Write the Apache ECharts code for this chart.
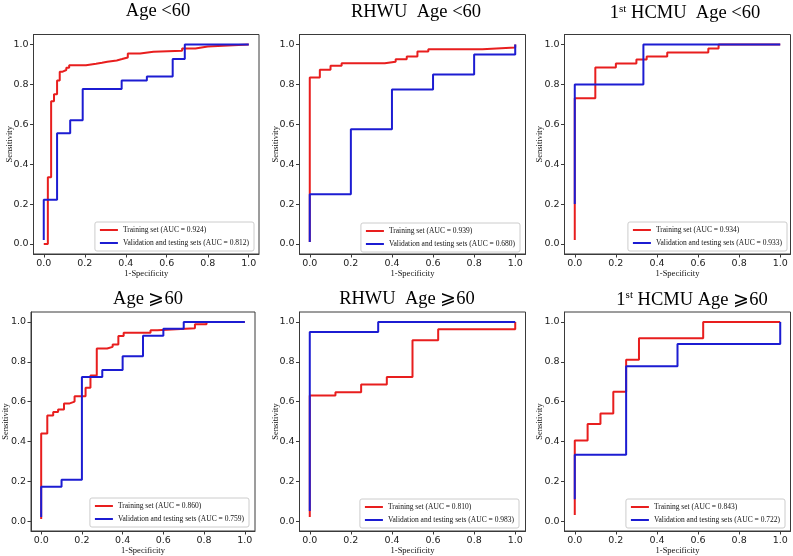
<!DOCTYPE html>
<html>
<head>
<meta charset="utf-8">
<script src="https://cdn.jsdelivr.net/npm/echarts@6/dist/echarts.min.js"></script>
<style>
html,body{margin:0;padding:0;background:#fff;}
#chart{width:793px;height:556px;}
</style>
</head>
<body>
<div id="chart"></div>
<script>
// ---- data ----
const tickValues = [0, 0.2, 0.4, 0.6, 0.8, 1.0];
const trainAUC = ['0.924', '0.939', '0.934', '0.860', '0.810', '0.843'];
const validAUC = ['0.812', '0.680', '0.933', '0.759', '0.983', '0.722'];

const p1TrainX = [0, 0.02, 0.036, 0.05, 0.065, 0.078, 0.09, 0.11, 0.124, 0.206, 0.255, 0.284, 0.31, 0.356, 0.382, 0.41, 0.47, 0.535, 0.675, 0.74, 0.8, 1.0];
const p1TrainY = [0, 0.335, 0.715, 0.75, 0.82, 0.863, 0.872, 0.883, 0.896, 0.903, 0.908, 0.913, 0.92, 0.927, 0.935, 0.955, 0.963, 0.968, 0.98, 0.99, 1.0, 1.0];
const p1ValX = [0, 0, 0.065, 0.129, 0.19, 0.38, 0.503, 0.629, 0.688, 1.0];
const p1ValY = [0.02, 0.222, 0.555, 0.62, 0.777, 0.82, 0.84, 0.927, 1.0, 1.0];

const p2TrainX = [0, 0, 0.049, 0.101, 0.155, 0.365, 0.418, 0.472, 0.524, 0.577, 0.84, 1.0];
const p2TrainY = [0.01, 0.834, 0.873, 0.893, 0.906, 0.914, 0.926, 0.94, 0.965, 0.976, 0.985, 1.0];
const p2ValX = [0, 0, 0.2, 0.4, 0.6, 0.8, 1.0];
const p2ValY = [0.01, 0.25, 0.575, 0.775, 0.85, 0.95, 1.0];

const p3TrainX = [0, 0, 0.1, 0.2, 0.3, 0.35, 0.45, 0.65, 0.7, 1.0];
const p3TrainY = [0.02, 0.73, 0.885, 0.905, 0.925, 0.94, 0.96, 0.98, 1.0, 1.0];
const p3ValX = [0, 0, 0.334, 1.0];
const p3ValY = [0.2, 0.8, 1.0, 1.0];

const p4TrainX = [0, 0, 0.03, 0.059, 0.083, 0.112, 0.137, 0.164, 0.218, 0.242, 0.273, 0.324, 0.351, 0.379, 0.405, 0.537, 0.57, 0.755, 0.812, 1.0];
const p4TrainY = [0.01, 0.44, 0.53, 0.548, 0.56, 0.59, 0.60, 0.627, 0.669, 0.731, 0.867, 0.875, 0.887, 0.929, 0.946, 0.958, 0.968, 0.988, 1.0, 1.0];
const p4ValX = [0, 0, 0.1, 0.2, 0.3, 0.4, 0.5, 0.6, 0.7, 1.0];
const p4ValY = [0.02, 0.172, 0.208, 0.724, 0.759, 0.828, 0.931, 0.966, 1.0, 1.0];

const p5TrainX = [0, 0, 0.125, 0.25, 0.375, 0.5, 0.625, 1.0];
const p5TrainY = [0.02, 0.63, 0.647, 0.686, 0.723, 0.908, 0.963, 1.0];
const p5ValX = [0, 0, 0.333, 1.0];
const p5ValY = [0.05, 0.95, 1.0, 1.0];

const p6TrainX = [0, 0, 0.0625, 0.125, 0.1875, 0.25, 0.3125, 0.625, 1.0];
const p6TrainY = [0.03, 0.405, 0.487, 0.54, 0.65, 0.81, 0.918, 1.0, 1.0];
const p6ValX = [0, 0, 0.25, 0.5, 1.0];
const p6ValY = [0.11, 0.333, 0.778, 0.889, 1.0];

const panels = [
  {tx: p1TrainX, ty: p1TrainY, vx: p1ValX, vy: p1ValY},
  {tx: p2TrainX, ty: p2TrainY, vx: p2ValX, vy: p2ValY},
  {tx: p3TrainX, ty: p3TrainY, vx: p3ValX, vy: p3ValY},
  {tx: p4TrainX, ty: p4TrainY, vx: p4ValX, vy: p4ValY},
  {tx: p5TrainX, ty: p5TrainY, vx: p5ValX, vy: p5ValY},
  {tx: p6TrainX, ty: p6TrainY, vx: p6ValX, vy: p6ValY}
];

// ---- layout ----
const W = 793, H = 556;
const grids = [
  {left: 33.5, top: 34.5, width: 225.5, height: 219.5},
  {left: 299.5, top: 34.5, width: 226, height: 219.5},
  {left: 564.5, top: 34.5, width: 226, height: 219.5},
  {left: 29.5, top: 312, width: 225.5, height: 219},
  {left: 299.5, top: 312, width: 226, height: 219},
  {left: 564.5, top: 312, width: 226, height: 219}
];
const legendPos = [
  {right: W - 254, bottom: H - 251},
  {right: W - 520, bottom: H - 252},
  {right: W - 787, bottom: H - 251},
  {right: W - 249, bottom: H - 527},
  {right: W - 519, bottom: H - 528},
  {right: W - 785, bottom: H - 528}
];
const yNameGap = [19, 19, 20, 21, 19.5, 20];

const serif = '"Liberation Serif", "Times New Roman", "DejaVu Serif", serif';
const sans = '"DejaVu Sans", sans-serif';
const RED = '#e81e1e';
const BLUE = '#1c1cd2';

const zip = (xs, ys) => xs.map((x, i) => [x, ys[i]]);

const option = {
  backgroundColor: '#ffffff',
  animation: false,
  grid: grids.map(g => Object.assign({show: true, borderColor: '#3a3a3a', borderWidth: 1, backgroundColor: '#fff'}, g)),
  xAxis: grids.map((g, i) => ({
    type: 'value', gridIndex: i, min: -0.05, max: 1.05,
    axisLine: {show: true, onZero: false, lineStyle: {color: '#3a3a3a', width: 1}},
    axisTick: {show: true, inside: false, length: 3.5, customValues: tickValues, lineStyle: {color: '#3a3a3a'}},
    axisLabel: {customValues: tickValues, formatter: v => v.toFixed(1), fontFamily: sans, fontSize: 9.5, color: '#222', margin: 5},
    splitLine: {show: false},
    name: '1-Specificity', nameLocation: 'middle', nameGap: 15, nameMoveOverlap: false,
    nameTextStyle: {fontFamily: serif, fontSize: 8.5, color: '#111'}
  })),
  yAxis: grids.map((g, i) => ({
    type: 'value', gridIndex: i, min: -0.05, max: 1.05,
    axisLine: {show: true, onZero: false, lineStyle: {color: '#3a3a3a', width: 1}},
    axisTick: {show: true, inside: false, length: 3.5, customValues: tickValues, lineStyle: {color: '#3a3a3a'}},
    axisLabel: {customValues: tickValues, formatter: v => v.toFixed(1), fontFamily: sans, fontSize: 9.5, color: '#222', margin: 5},
    splitLine: {show: false},
    name: 'Sensitivity', nameLocation: 'middle', nameGap: yNameGap[i], nameMoveOverlap: false,
    nameTextStyle: {fontFamily: serif, fontSize: 8.5, color: '#111'}
  })),
  legend: legendPos.map((p, i) => Object.assign({
    orient: 'vertical',
    data: ['Training set (AUC = ' + trainAUC[i] + ')', 'Validation and testing sets (AUC = ' + validAUC[i] + ')'],
    icon: 'rect', itemWidth: 18, itemHeight: 2, itemGap: 3,
    padding: [3, 5, 3, 5],
    borderColor: '#cccccc', borderWidth: 1, borderRadius: 2, backgroundColor: '#ffffff',
    selectedMode: false,
    textStyle: {fontFamily: serif, fontSize: 7.5, color: '#111', lineHeight: 10}
  }, p)),
  series: panels.flatMap((p, i) => [
    {
      type: 'line', name: 'Training set (AUC = ' + trainAUC[i] + ')',
      xAxisIndex: i, yAxisIndex: i, step: 'end', symbol: 'none',
      lineStyle: {color: RED, width: 2}, itemStyle: {color: RED},
      data: zip(p.tx, p.ty), z: 2
    },
    {
      type: 'line', name: 'Validation and testing sets (AUC = ' + validAUC[i] + ')',
      xAxisIndex: i, yAxisIndex: i, step: 'end', symbol: 'none',
      lineStyle: {color: BLUE, width: 2}, itemStyle: {color: BLUE},
      data: zip(p.vx, p.vy), z: 3
    }
  ]),
  graphic: []
};

const titleRich = {
  n: {fontFamily: serif, fontSize: 18.5, lineHeight: 20, fill: '#000'},
  s: {fontFamily: serif, fontSize: 11, lineHeight: 12, verticalAlign: 'top', fill: '#000'}
};
const titles = [
  {x: 158, y: 11, text: '{n|Age <60}'},
  {x: 416, y: 12, text: '{n|RHWU  Age <60}'},
  {x: 685, y: 13.5, text: '{n|1}{s|st}{n| HCMU  Age <60}'},
  {x: 148, y: 299, text: '{n|Age \u2A7E60}'},
  {x: 407, y: 299, text: '{n|RHWU  Age \u2A7E60}'},
  {x: 692, y: 300, text: '{n|1}{s|st}{n| HCMU Age \u2A7E60}'}
];
option.graphic = titles.map(t => ({
  type: 'text', x: t.x, y: t.y, z: 10,
  style: {text: t.text, rich: titleRich, align: 'center', verticalAlign: 'middle', fill: '#000'}
}));

const chart = echarts.init(document.getElementById('chart'), null, {renderer: 'canvas'});
chart.setOption(option);
</script>
</body>
</html>
